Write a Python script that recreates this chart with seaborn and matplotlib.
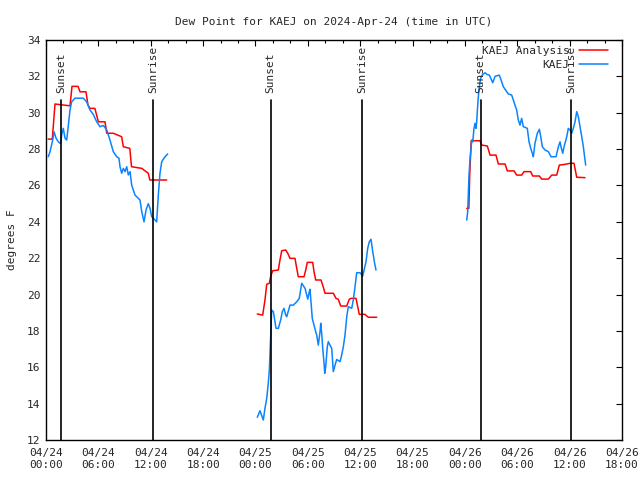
import numpy as np
import pandas as pd
import matplotlib
matplotlib.use("Agg")
import matplotlib.pyplot as plt
import matplotlib.dates as mdates
from matplotlib.lines import Line2D
import seaborn as sns

# hours since 2024-04-24 00:00 UTC, dew point in F
base = pd.Timestamp("2024-04-24 00:00")

obs_h = [
    [0.26, 0.46, 0.77, 0.92, 1.15, 1.41, 1.68, 1.8, 1.98, 2.18, 2.37, 2.56, 2.75, 2.94,
     3.32, 4.27, 4.66, 5.04, 5.42, 5.81, 6.19, 6.57, 6.96, 7.33, 7.71, 8.1, 8.36, 8.48,
     8.67, 8.86, 9.05, 9.25, 9.43, 9.63, 9.82, 10.2, 10.58, 10.77, 10.97, 11.23, 11.46,
     11.72, 11.92, 12.11, 12.49, 12.68, 12.87, 13.06, 13.26, 13.64, 13.94],
    [24.21, 24.52, 24.9, 25.09, 25.29, 25.47, 25.59, 25.75, 25.86, 26.05, 26.36, 26.62,
     26.89, 27.08, 27.27, 27.47, 27.58, 27.96, 28.34, 28.73, 29.02, 29.3, 29.68, 29.99,
     30.17, 30.25, 30.51, 30.9, 31.02, 31.2, 31.4, 31.48, 31.59, 31.71, 31.86, 31.94,
     32.05, 32.23, 32.35, 32.54, 32.74, 32.92, 33.12, 33.31, 33.69, 33.88, 34.07, 34.26,
     34.46, 34.64, 34.83, 35.03, 35.21, 35.41, 35.6, 35.98, 36.29, 36.67, 36.86, 37.05,
     37.24, 37.44, 37.62, 37.81],
    [48.21, 48.32, 48.47, 48.58, 48.7, 48.78, 48.9, 49.04, 49.16, 49.27, 49.35, 49.45,
     49.54, 49.65, 49.8, 50.0, 50.3, 50.55, 50.8, 51.19, 51.45, 51.94, 52.22, 52.4,
     52.98, 53.36, 53.74, 53.93, 54.12, 54.31, 54.5, 54.69, 54.88, 55.15, 55.35, 55.54,
     55.72, 55.84, 56.03, 56.3, 56.53, 56.69, 56.87, 57.18, 57.56, 57.87, 58.44, 58.71,
     58.9, 59.01, 59.21, 59.36, 59.67, 59.85, 60.04, 60.24, 60.42, 60.62, 60.81, 61.0,
     61.19, 61.39, 61.57, 61.76, 61.84],
]
obs_v = [
    [27.58, 27.85, 28.5, 28.96, 28.6, 28.4, 28.3, 28.8, 29.14, 28.6, 28.5, 29.3, 30.15,
     30.6, 30.8, 30.8, 30.6, 30.15, 29.9, 29.5, 29.23, 29.3, 29.05, 28.5, 27.86, 27.58,
     27.5, 27.03, 26.67, 26.94, 26.76, 27.03, 26.58, 26.76, 26.02, 25.47, 25.29, 25.2,
     24.56, 24.0, 24.65, 25.0, 24.74, 24.28, 24.1, 24.0, 25.47, 26.67, 27.31, 27.58, 27.73],
    [13.25, 13.61, 13.1, 13.74, 14.29, 15.12, 15.85, 17.77, 19.15, 19.06, 18.14, 18.14,
     18.6, 19.06, 19.24, 18.87, 18.78, 19.42, 19.42, 19.6, 19.79, 20.62, 20.34, 19.75,
     20.16, 20.29, 18.69, 17.96, 17.77, 17.22, 17.96, 18.42, 17.86, 17.04, 16.22, 15.67,
     16.03, 17.13, 17.41, 17.22, 17.04, 15.76, 16.12, 16.43, 16.31, 16.67, 17.13, 17.77,
     18.78, 19.33, 19.29, 19.24, 19.7, 20.43, 21.2, 21.2, 21.02, 21.81, 22.54, 22.91,
     23.04, 22.36, 21.81, 21.35],
    [24.1, 24.56, 26.57, 27.4, 28.04, 28.5, 28.4, 29.14, 29.42, 29.14, 29.5, 30.3, 30.88,
     31.43, 31.9, 32.07, 32.2, 32.1, 32.07, 31.65, 32.0, 32.07, 31.7, 31.43, 31.03, 30.97,
     30.42, 30.15, 29.6, 29.32, 29.69, 29.23, 29.2, 29.14, 28.4, 28.04, 27.77, 27.58,
     28.32, 28.87, 29.09, 28.68, 28.13, 27.95, 27.86, 27.58, 27.58, 28.13, 28.4, 28.13,
     27.77, 28.13, 28.68, 29.14, 29.05, 28.87, 29.14, 29.5, 30.06, 29.78, 29.23, 28.68,
     28.13, 27.4, 27.12],
]

ana_h = [
    [0.25, 0.72, 1.03, 2.75, 2.98, 3.67, 3.9, 4.58, 4.81, 5.04, 5.6, 6.0, 6.76, 6.96,
     7.71, 8.67, 8.86, 9.6, 9.8, 10.97, 11.72, 11.9, 13.83],
    [24.21, 24.83, 25.09, 25.29, 25.59, 25.75, 25.98, 26.62, 26.81, 27.01, 27.47, 27.7,
     27.96, 28.53, 28.73, 28.91, 29.56, 29.76, 29.94, 30.56, 30.71, 30.9, 31.51, 31.78,
     31.97, 32.92, 33.23, 33.49, 33.77, 34.46, 34.75, 34.95, 35.52, 35.72, 35.9, 36.55,
     36.93, 37.89],
    [48.21, 48.45, 48.55, 48.72, 49.73, 49.93, 50.57, 50.88, 51.56, 51.83, 52.6, 52.86,
     53.63, 53.93, 54.5, 54.77, 55.54, 55.77, 56.53, 56.8, 57.56, 57.95, 58.52, 58.82,
     59.47, 60.04, 60.5, 60.81, 61.76],
]
ana_v = [
    [28.55, 28.55, 30.48, 30.38, 31.45, 31.45, 31.15, 31.15, 30.42, 30.24, 30.24, 29.5,
     29.5, 28.87, 28.87, 28.68, 28.13, 28.04, 27.03, 26.94, 26.67, 26.3, 26.3],
    [18.93, 18.87, 19.7, 20.56, 20.62, 21.02, 21.31, 21.35, 21.9, 22.41, 22.45, 22.27,
     21.99, 21.99, 21.44, 20.98, 20.98, 21.35, 21.77, 21.77, 21.26, 20.8, 20.8, 20.4,
     20.07, 20.07, 19.79, 19.74, 19.37, 19.37, 19.74, 19.79, 19.79, 19.33, 18.91, 18.91,
     18.75, 18.75],
    [24.74, 24.74, 26.6, 28.46, 28.46, 28.22, 28.17, 27.67, 27.67, 27.18, 27.18, 26.8,
     26.8, 26.57, 26.57, 26.76, 26.76, 26.52, 26.52, 26.35, 26.35, 26.57, 26.57, 27.12,
     27.16, 27.22, 27.22, 26.45, 26.43],
]

sunset_h = [1.73, 25.75, 49.8]
sunrise_h = [12.3, 36.25, 60.15]

red = "#ff0000"
blue = "#0a84ff"


def to_time(hours):
    return base + pd.to_timedelta(np.array(hours), unit="h")


rows = []
for name, hs, vs in [("KAEJ Analysis", ana_h, ana_v), ("KAEJ", obs_h, obs_v)]:
    for seg, (h, v) in enumerate(zip(hs, vs)):
        rows.append(pd.DataFrame({"time": to_time(h), "dewpoint": v,
                                  "series": name, "seg": seg}))
df = pd.concat(rows, ignore_index=True)

sns.set_style("white")
plt.rcParams["font.family"] = ["DejaVu Sans Mono", "DejaVu Sans"]
plt.rcParams["font.size"] = 8

fig = plt.figure(figsize=(6.4, 4.8), dpi=100)
ax = fig.add_axes([46 / 640, 40 / 480, 576 / 640, 400 / 480])

sns.lineplot(data=df, x="time", y="dewpoint", hue="series", units="seg",
             estimator=None, sort=False, palette={"KAEJ Analysis": red, "KAEJ": blue},
             linewidth=1.1, legend=False, ax=ax)

for label, hs in [("Sunset", sunset_h), ("Sunrise", sunrise_h)]:
    for t in to_time(hs):
        ax.plot([t, t], [12, 30.72], color="black", linewidth=1.2)
        ax.text(t, 31.1, label, rotation=90, ha="center", va="bottom", fontsize=8)

ax.set_xlim(base, base + pd.Timedelta(hours=66))
ax.set_ylim(12, 34)
ax.set_yticks(np.arange(12, 35, 2))
ax.xaxis.set_major_locator(mdates.HourLocator(byhour=[0, 6, 12, 18]))
ax.xaxis.set_minor_locator(mdates.HourLocator(interval=2))
ax.xaxis.set_major_formatter(mdates.DateFormatter("%m/%d\n%H:%M"))
ax.tick_params(axis="both", which="both", direction="in", top=True, right=True,
               labelsize=8, color="black", width=0.8)
ax.tick_params(which="major", length=4, pad=6)
ax.tick_params(which="minor", length=2)
ax.tick_params(axis="y", pad=4)
for s in ax.spines.values():
    s.set_color("black")
    s.set_linewidth(1)

ax.set_xlabel("")
ax.set_ylabel("degrees F", fontsize=8, labelpad=7)
ax.set_title("Dew Point for KAEJ on 2024-Apr-24 (time in UTC)", fontsize=8, pad=11)

leg1 = ax.legend([Line2D([], [], color=red, lw=1.1)], ["KAEJ Analysis"],
                 loc="upper right", bbox_to_anchor=(0.98, 0.99), frameon=False,
                 markerfirst=False, handlelength=2.6, handletextpad=0.9,
                 borderpad=0, borderaxespad=0.2, fontsize=8)
ax.add_artist(leg1)
ax.legend([Line2D([], [], color=blue, lw=1.1)], ["KAEJ"],
          loc="upper right", bbox_to_anchor=(0.98, 0.955), frameon=False,
          markerfirst=False, handlelength=2.6, handletextpad=0.9,
          borderpad=0, borderaxespad=0.2, fontsize=8)

fig.savefig("out.png", dpi=100)
